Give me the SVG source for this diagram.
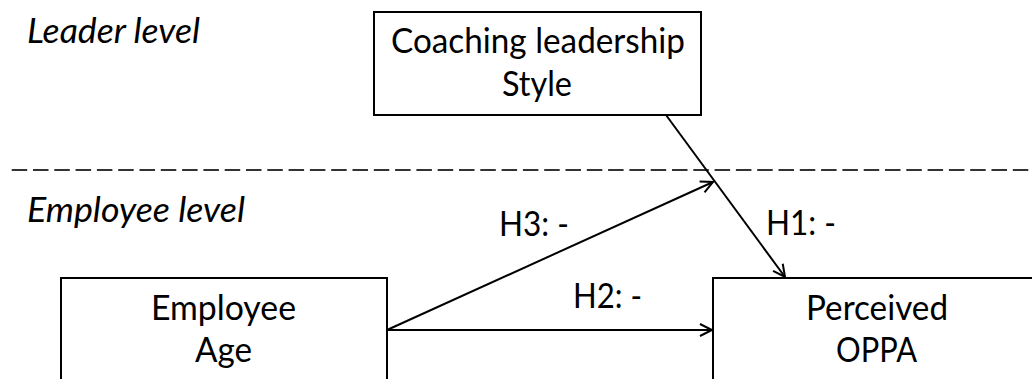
<svg xmlns="http://www.w3.org/2000/svg" width="1032" height="379" viewBox="0 0 1032 379">
<style>
  text { font-family: Lato, "Open Sans", "Liberation Sans", sans-serif; font-size: 34px; fill: #000; }
  .lvl { font-style: italic; }
  .box { fill: #fff; stroke: #000; stroke-width: 2; }
  .conn { stroke: #000; stroke-width: 2; fill: none; }
  .divider { stroke: #333; stroke-width: 2.2; stroke-dasharray: 15.5 5.8; }
</style>
<defs>
  <marker id="arrow" markerUnits="userSpaceOnUse" markerWidth="16" markerHeight="16" refX="13" refY="7" orient="auto">
    <path d="M1,1 L13,7 L1,13" fill="none" stroke="#000" stroke-width="2"/>
  </marker>
</defs>
<rect width="1032" height="379" fill="#fff"/>
<g id="level-labels">
  <text class="lvl" x="27" y="43" textLength="173" lengthAdjust="spacingAndGlyphs">Leader level</text>
  <text class="lvl" x="27" y="222" textLength="218" lengthAdjust="spacingAndGlyphs">Employee level</text>
</g>
<line id="level-divider" class="divider" x1="11.7" y1="170" x2="1032" y2="170"/>
<g id="node-coaching">
  <rect class="box" x="374" y="12" width="327" height="103"/>
  <text x="391" y="53" textLength="294" lengthAdjust="spacingAndGlyphs">Coaching leadership</text>
  <text x="502" y="96" textLength="70" lengthAdjust="spacingAndGlyphs">Style</text>
</g>
<g id="node-age">
  <rect class="box" x="61" y="278" width="326" height="122"/>
  <text x="151" y="320" textLength="145" lengthAdjust="spacingAndGlyphs">Employee</text>
  <text x="195" y="362" textLength="57" lengthAdjust="spacingAndGlyphs">Age</text>
</g>
<g id="node-oppa">
  <rect class="box" x="713" y="278" width="330" height="122"/>
  <text x="806" y="320" textLength="142" lengthAdjust="spacingAndGlyphs">Perceived</text>
  <text x="836" y="362" textLength="81" lengthAdjust="spacingAndGlyphs">OPPA</text>
</g>
<g id="connectors">
  <line class="conn" x1="666" y1="115" x2="785" y2="277" marker-end="url(#arrow)"/>
  <line class="conn" x1="387" y1="330" x2="713" y2="182" marker-end="url(#arrow)"/>
  <line class="conn" x1="387" y1="330" x2="712" y2="330" marker-end="url(#arrow)"/>
  <text x="499" y="236" textLength="70" lengthAdjust="spacingAndGlyphs">H3: -</text>
  <text x="766" y="235" textLength="70" lengthAdjust="spacingAndGlyphs">H1: -</text>
  <text x="573" y="308" textLength="69" lengthAdjust="spacingAndGlyphs">H2: -</text>
</g>
</svg>
